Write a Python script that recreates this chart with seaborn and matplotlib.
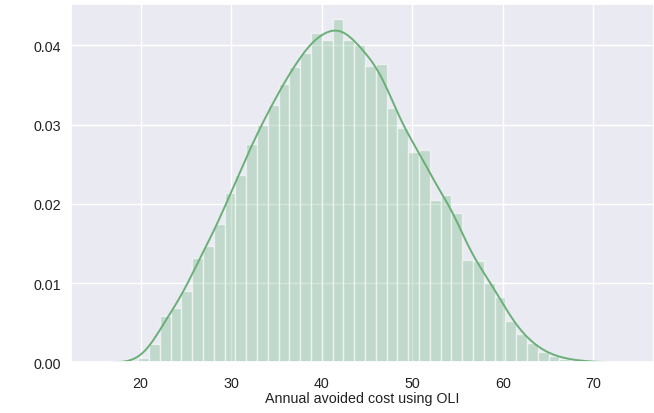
import matplotlib
matplotlib.use('Agg')
import matplotlib.pyplot as plt
import numpy as np
import pandas as pd
import seaborn as sns

# Histogram (density per bin), bins start at 19.73, width ~1.193
bin_start = 19.73
bin_width = 1.193
density = [0.00055, 0.00232, 0.00591, 0.00688, 0.0090,
           0.0132, 0.0147, 0.0175, 0.0214, 0.0236,
           0.0276, 0.0299, 0.0325, 0.0351, 0.0373,
           0.0390, 0.0416, 0.0406, 0.0433, 0.0406,
           0.0400, 0.0374, 0.0376, 0.0321, 0.0296,
           0.0265, 0.0268, 0.0205, 0.0211, 0.0189,
           0.0129, 0.0128, 0.0100, 0.0083, 0.0052,
           0.0036, 0.0024, 0.0013, 0.0008, 0.00047,
           0.00025, 0.00014, 0.00006]
x_ticks = [20, 30, 40, 50, 60, 70]
y_ticks = [0.00, 0.01, 0.02, 0.03, 0.04]
x_label = 'Annual avoided cost using OLI'

sns.set_theme(style='darkgrid')
plt.rcParams['font.family'] = ['Liberation Sans', 'DejaVu Sans']

edges = list(bin_start + bin_width * np.arange(len(density) + 1))
df = pd.DataFrame({'cost': [(a + b) / 2 for a, b in zip(edges[:-1], edges[1:])],
                   'density': density})
green = '#55A868'

fig = plt.figure(figsize=(6.54, 4.14), dpi=100)
ax = fig.add_axes([0.108, 0.122, 0.892, 0.866])

sns.histplot(data=df, x='cost', weights='density', bins=edges, stat='count',
             color=green, facecolor=(0.333, 0.659, 0.408, 0.27),
             edgecolor=(1, 1, 1, 0.55), alpha=None, linewidth=1, ax=ax)
sns.kdeplot(data=df, x='cost', weights='density', bw_adjust=0.3, cut=3, clip=(17.1, 71.3),
            color='#6aaf78', linewidth=1.4, ax=ax)

ax.set_xlim(12.27, 76.7)
ax.set_ylim(0, 0.0452)
ax.set_xticks(x_ticks)
ax.set_yticks(y_ticks)
ax.set_yticklabels(['%.2f' % v for v in y_ticks])
ax.tick_params(axis='x', labelsize=10.3, pad=4, colors='#222222')
ax.tick_params(axis='y', labelsize=10.3, pad=1, colors='#222222')
ax.set_xlabel(x_label, fontsize=10.3, labelpad=0.5, color='#222222')
ax.set_ylabel('')

plt.savefig('out.png', dpi=100)
plt.close()
